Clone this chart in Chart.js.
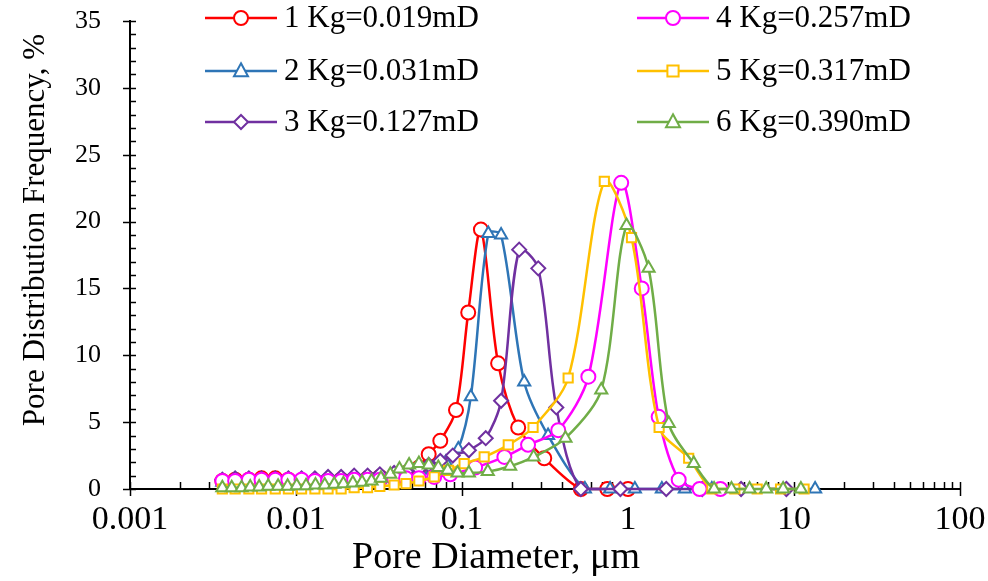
<!DOCTYPE html>
<html>
<head>
<meta charset="utf-8">
<script src="https://cdn.jsdelivr.net/npm/chart.js@4.4.0/dist/chart.umd.min.js"></script>
<style>
  html, body { margin: 0; padding: 0; background: #fff; }
  #wrap { width: 988px; height: 581px; }
</style>
</head>
<body>
<div id="wrap"><canvas id="chart" width="988" height="581"></canvas></div>
<script>
// series labels
const seriesNames = ['1 Kg=0.019mD', '2 Kg=0.031mD', '3 Kg=0.127mD', '4 Kg=0.257mD', '5 Kg=0.317mD', '6 Kg=0.390mD'];

// pore diameter (um) and frequency (%) per sample
const d1 = [0.0036, 0.0043, 0.0052, 0.0062, 0.0075, 0.009, 0.0108, 0.013, 0.0156, 0.0187, 0.0224, 0.027, 0.032, 0.039, 0.046, 0.055, 0.063, 0.074, 0.092, 0.109, 0.13, 0.165, 0.218, 0.313, 0.52, 0.75, 1.0];
const f1 = [0.6, 0.7, 0.7, 0.8, 0.8, 0.7, 0.6, 0.6, 0.6, 0.7, 0.7, 0.8, 0.9, 1.0, 1.2, 1.6, 2.6, 3.6, 5.9, 13.2, 19.4, 9.4, 4.6, 2.3, 0, 0, 0];

const d2 = [0.0036, 0.0043, 0.0052, 0.0062, 0.0075, 0.009, 0.0108, 0.013, 0.0156, 0.0187, 0.0224, 0.027, 0.032, 0.039, 0.046, 0.055, 0.066, 0.08, 0.095, 0.113, 0.144, 0.172, 0.237, 0.33, 0.55, 0.78, 1.1, 1.6, 2.2, 3.2, 13.4];
const f2 = [0.5, 0.5, 0.6, 0.6, 0.6, 0.6, 0.6, 0.6, 0.6, 0.6, 0.6, 0.7, 0.7, 0.8, 0.9, 1.1, 1.4, 2.0, 3.0, 6.9, 19.1, 19.0, 8.0, 4.0, 0, 0, 0, 0, 0, 0, 0];

const d3 = [0.0036, 0.0043, 0.0052, 0.0062, 0.0075, 0.009, 0.0108, 0.013, 0.0156, 0.0187, 0.0224, 0.027, 0.032, 0.039, 0.046, 0.055, 0.063, 0.074, 0.088, 0.11, 0.139, 0.172, 0.221, 0.288, 0.37, 0.52, 0.9, 1.7, 2.8, 4.8, 9.0];
const f3 = [0.7, 0.8, 0.8, 0.8, 0.8, 0.8, 0.8, 0.8, 0.9, 0.9, 1.0, 1.0, 1.1, 1.2, 1.3, 1.5, 1.8, 2.1, 2.5, 2.9, 3.8, 6.6, 17.9, 16.5, 6.1, 0, 0, 0, 0, 0, 0];

const d4 = [0.0036, 0.0043, 0.0052, 0.0062, 0.0075, 0.009, 0.0108, 0.013, 0.0156, 0.0187, 0.0224, 0.027, 0.032, 0.039, 0.046, 0.055, 0.068, 0.085, 0.12, 0.18, 0.25, 0.38, 0.577, 0.91, 1.21, 1.53, 2.02, 2.7, 3.6];
const f4 = [0.6, 0.6, 0.7, 0.7, 0.7, 0.7, 0.7, 0.6, 0.6, 0.6, 0.7, 0.7, 0.7, 0.8, 0.8, 0.8, 0.9, 1.1, 1.6, 2.4, 3.3, 4.4, 8.4, 22.9, 15.0, 5.4, 0.7, 0, 0];

const d5 = [0.0036, 0.0043, 0.0052, 0.0062, 0.0075, 0.009, 0.0108, 0.013, 0.0156, 0.0187, 0.0224, 0.027, 0.032, 0.039, 0.046, 0.055, 0.068, 0.083, 0.103, 0.136, 0.19, 0.268, 0.436, 0.72, 1.05, 1.54, 2.32, 3.2, 4.4, 6.0, 8.3, 11.5];
const f5 = [0, 0, 0, 0, 0, 0, 0, 0, 0, 0, 0.1, 0.1, 0.2, 0.3, 0.4, 0.6, 0.9, 1.4, 1.9, 2.4, 3.3, 4.6, 8.3, 23.0, 18.8, 4.6, 2.3, 0, 0, 0, 0, 0];

const d6 = [0.0036, 0.0041, 0.0047, 0.0053, 0.006, 0.0068, 0.0078, 0.0089, 0.0101, 0.0115, 0.0131, 0.0149, 0.017, 0.0193, 0.022, 0.025, 0.0285, 0.0325, 0.037, 0.042, 0.048, 0.055, 0.063, 0.072, 0.082, 0.094, 0.11, 0.143, 0.195, 0.27, 0.42, 0.69, 0.98, 1.33, 1.76, 2.49, 3.3, 4.2, 5.4, 6.8, 8.6, 11];
const f6 = [0.1, 0.1, 0.1, 0.15, 0.15, 0.2, 0.2, 0.2, 0.25, 0.25, 0.3, 0.3, 0.35, 0.4, 0.45, 0.5, 0.6, 0.8, 1.1, 1.5, 1.8, 1.9, 1.8, 1.6, 1.4, 1.2, 1.2, 1.3, 1.7, 2.4, 3.8, 7.4, 19.7, 16.5, 4.9, 1.9, 0, 0, 0, 0, 0, 0];

const xTickLabels = ['0.001', '0.01', '0.1', '1', '10', '100'];
const yTicks = [0, 5, 10, 15, 20, 25, 30, 35];
const xTitle = 'Pore Diameter, μm';
const yTitle = 'Pore Distribution Frequency, %';

const colors = ['#FF0000', '#2E75B6', '#7030A0', '#FF00FF', '#FFC000', '#70AD47'];
const markers = ['circle', 'triangle', 'rectRot', 'circle', 'rect', 'triangle'];
const serif = "'Liberation Serif', 'Times New Roman', serif";

function toPoints(xs, ys) {
    return xs.map((v, i) => ({ x: v, y: ys[i] }));
}

const allX = [d1, d2, d3, d4, d5, d6];
const allY = [f1, f2, f3, f4, f5, f6];

var datasets = seriesNames.map((name, i) => ({
    label: name,
    data: toPoints(allX[i], allY[i]),
    borderColor: colors[i],
    backgroundColor: '#ffffff',
    borderWidth: 2.5,
    pointStyle: markers[i],
    pointRadius: markers[i] === 'rect' ? 6.5 : 7,
    pointBorderWidth: 2,
    pointBackgroundColor: '#ffffff',
    pointBorderColor: colors[i],
    tension: 0.3,
    fill: false,
    clip: false,
    order: 6 - i,
}));

function drawMarker(ctx, style, x, y, r) {
    ctx.beginPath();
    if (style === 'circle') {
        ctx.arc(x, y, r, 0, Math.PI * 2);
    } else if (style === 'triangle') {
        ctx.moveTo(x, y - r * 1.1);
        ctx.lineTo(x + r, y + r * 0.75);
        ctx.lineTo(x - r, y + r * 0.75);
        ctx.closePath();
    } else if (style === 'rectRot') {
        ctx.moveTo(x, y - r);
        ctx.lineTo(x + r, y);
        ctx.lineTo(x, y + r);
        ctx.lineTo(x - r, y);
        ctx.closePath();
    } else {
        ctx.rect(x - r * 0.8, y - r * 0.8, r * 1.6, r * 1.6);
    }
    ctx.fill();
    ctx.stroke();
}

// legend drawn inside the plot, two columns
const legendSpots = [[205, 18], [205, 71], [205, 122], [637, 18], [637, 71], [637, 122]];
const innerLegend = {
    id: 'innerLegend',
    afterDraw(chart) {
        const ctx = chart.ctx;
        ctx.save();
        chart.data.datasets.forEach((ds, i) => {
            const [lx, ly] = legendSpots[i];
            ctx.strokeStyle = ds.borderColor;
            ctx.lineWidth = 2.5;
            ctx.beginPath();
            ctx.moveTo(lx, ly);
            ctx.lineTo(lx + 72, ly);
            ctx.stroke();
            ctx.lineWidth = 2;
            ctx.fillStyle = '#ffffff';
            drawMarker(ctx, ds.pointStyle, lx + 36, ly, 7);
            ctx.fillStyle = '#000000';
            ctx.font = '31px ' + serif;
            ctx.textBaseline = 'middle';
            ctx.textAlign = 'left';
            ctx.fillText(ds.label, lx + 79, ly + 1);
        });
        ctx.restore();
    }
};

// axis titles placed like the original (not centred on the axes)
const axisTitles = {
    id: 'axisTitles',
    afterDraw(chart) {
        const ctx = chart.ctx;
        ctx.save();
        ctx.fillStyle = '#000000';
        ctx.textAlign = 'center';
        ctx.textBaseline = 'middle';
        ctx.font = '38px ' + serif;
        ctx.fillText(xTitle, 496, 558);
        ctx.translate(36, 230);
        ctx.rotate(-Math.PI / 2);
        ctx.font = '31px ' + serif;
        ctx.fillText(yTitle, 0, 0);
        ctx.restore();
    }
};

// tick marks: majors cross the axis, minors point inward
const axisTicks = {
    id: 'axisTicks',
    beforeDatasetsDraw(chart) {
        const { ctx, chartArea, scales } = chart;
        const xs = scales.x, ys = scales.y;
        ctx.save();
        ctx.strokeStyle = '#000000';
        ctx.lineWidth = 1.5;
        for (let v = 0; v <= 35; v++) {
            const py = Math.round(ys.getPixelForValue(v)) + 0.5;
            const major = v % 5 === 0;
            ctx.beginPath();
            ctx.moveTo(chartArea.left - (major ? 7 : 0), py);
            ctx.lineTo(chartArea.left + 6, py);
            ctx.stroke();
        }
        for (let e = -3; e <= 2; e++) {
            for (let k = 1; k <= 9; k++) {
                const val = k * Math.pow(10, e);
                if (val > 100) break;
                const px = Math.round(xs.getPixelForValue(val)) + 0.5;
                ctx.beginPath();
                if (k === 1) {
                    ctx.moveTo(px, chartArea.bottom - 7);
                    ctx.lineTo(px, chartArea.bottom + 7);
                } else {
                    ctx.moveTo(px, chartArea.bottom);
                    ctx.lineTo(px, chartArea.bottom - 7);
                }
                ctx.stroke();
            }
        }
        ctx.restore();
    }
};

var config = {
    type: 'line',
    data: { datasets: datasets },
    options: {
        responsive: false,
        animation: false,
        layout: { padding: { left: 0, top: 21, right: 28, bottom: 0 } },
        plugins: {
            legend: { display: false },
            tooltip: { enabled: false },
        },
        scales: {
            x: {
                type: 'logarithmic',
                min: 0.001,
                max: 100,
                grid: { display: false, drawTicks: false },
                border: { display: true, color: '#000000', width: 2 },
                afterFit: function (scale) {
                    scale.height = 92;
                    scale.paddingLeft = 0;
                    scale.paddingRight = 0;
                },
                ticks: {
                    autoSkip: false,
                    maxRotation: 0,
                    padding: 11,
                    color: '#000000',
                    font: { family: serif, size: 34 },
                    callback: function (value) {
                        const lg = Math.log10(value);
                        if (Math.abs(lg - Math.round(lg)) < 1e-9) {
                            return xTickLabels[Math.round(lg) + 3];
                        }
                        return '';
                    },
                },
            },
            y: {
                min: 0,
                max: 35,
                afterBuildTicks: function (scale) {
                    scale.ticks = yTicks.map(v => ({ value: v }));
                },
                afterFit: function (scale) {
                    scale.width = 130;
                    scale.paddingTop = 0;
                    scale.paddingBottom = 0;
                },
                grid: { display: false, drawTicks: false },
                border: { display: true, color: '#000000', width: 2 },
                ticks: {
                    padding: 29,
                    color: '#000000',
                    font: { family: serif, size: 26 },
                },
            },
        },
    },
    plugins: [axisTicks, innerLegend, axisTitles],
};

new Chart(document.getElementById('chart').getContext('2d'), config);
</script>
</body>
</html>
